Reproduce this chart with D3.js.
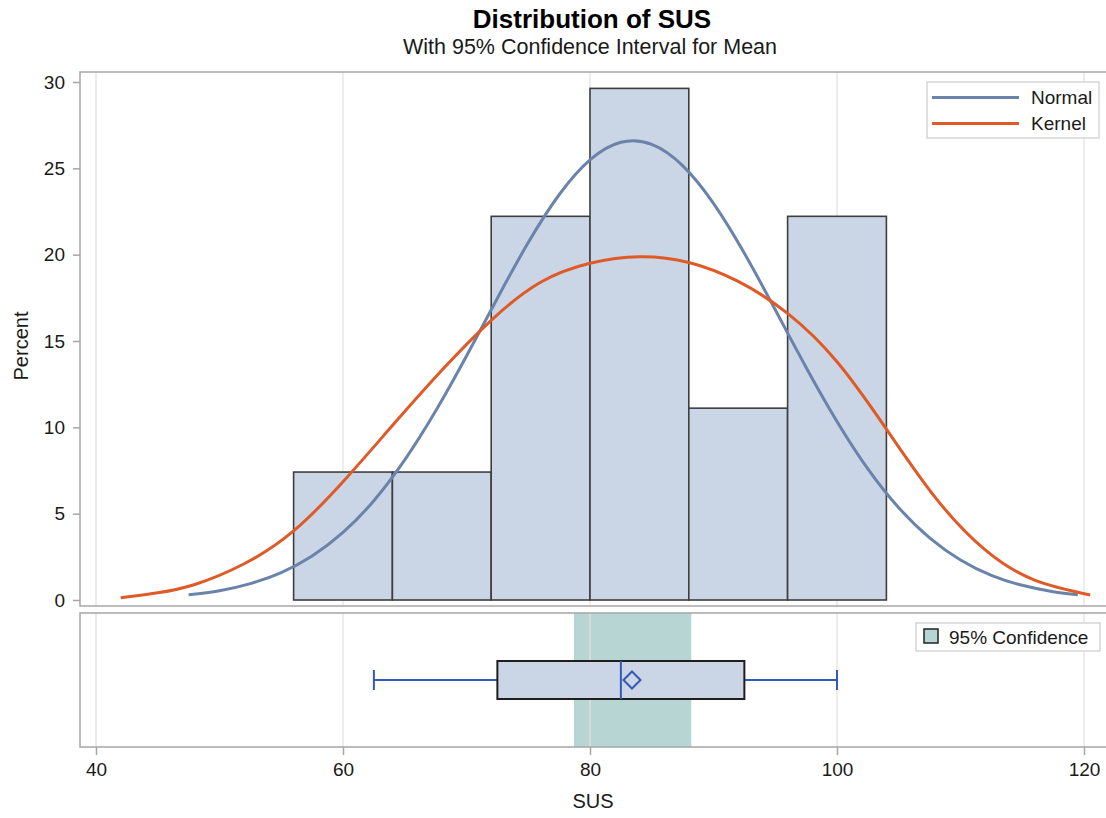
<!DOCTYPE html>
<html>
<head>
<meta charset="utf-8">
<script src="https://cdn.jsdelivr.net/npm/d3@7"></script>
<style>
  html, body { margin: 0; padding: 0; background: #ffffff; }
  svg { display: block; font-family: "Liberation Sans", Arial, sans-serif; }
</style>
</head>
<body>
<div id="chart"></div>
<script>
// Distribution of SUS — histogram with normal / kernel fits and a box plot
// with the 95% confidence interval for the mean underneath.

// ----- Data -----
const binLo = [56, 64, 72, 80, 88, 96];
const binHi = [64, 72, 80, 88, 96, 104];
const binPercent = [7.41, 7.41, 22.22, 29.63, 11.11, 22.22];

const normalX = [47.5, 50, 52.5, 55, 57.5, 60, 62.5, 65, 67.5, 70, 72.5, 75, 77.5, 80,
                 82.5, 85, 87.5, 90, 92.5, 95, 97.5, 100, 102.5, 105, 107.5, 110, 112.5,
                 115, 117.5, 119.5];
const normalY = [0.30, 0.54, 0.95, 1.59, 2.55, 3.91, 5.75, 8.11, 10.94, 14.13, 17.48, 20.70,
                 23.47, 25.49, 26.51, 26.39, 25.16, 22.97, 20.08, 16.81, 13.47, 10.34, 7.59,
                 5.34, 3.60, 2.32, 1.43, 0.85, 0.48, 0.30];

const kernelX = [42, 45, 48, 52, 56, 60, 64, 68, 72, 76, 80, 84, 88, 92, 96, 100, 104,
                 108, 112, 116, 120.5];
const kernelY = [0.13, 0.42, 0.9, 2.1, 4.0, 6.85, 10.1, 13.3, 16.2, 18.4, 19.5, 19.88,
                 19.55, 18.45, 16.6, 13.8, 9.9, 5.9, 2.9, 1.15, 0.29];

// box plot: min, Q1, median, Q3, max
const boxValues = [62.5, 72.5, 82.5, 92.5, 100];
const meanSUS = 83.4;
const ciMean = [78.7, 88.2];

const xTicks = [40, 60, 80, 100, 120];
const yTicks = [0, 5, 10, 15, 20, 25, 30];
const fitNames = ["Normal", "Kernel"];

// ----- Configuration -----
const W = 1106, H = 818;
const FONT = "Liberation Sans, Arial, sans-serif";
const TEXT_COLOR = "#1a1a1a";
const BAR_FILL = "#cad5e5";
const BAR_STROKE = "#3e3e3e";
const NORMAL_COLOR = "#6a83aa";
const KERNEL_COLOR = "#e05a27";
const CI_FILL = "#b7d5d3";
const WHISKER_COLOR = "#3558b8";
const FRAME_COLOR = "#a6a6a6";
const GRID_COLOR = "#e3e3e3";

const TOP = { left: 80, right: 1112, top: 72, bottom: 606 };
const BOTTOM = { left: 80, right: 1112, top: 613, bottom: 747 };

const svg = d3.select("#chart").append("svg")
  .attr("width", W)
  .attr("height", H);

// ----- Scales -----
const x = d3.scaleLinear().domain([40, 120]).range([96, 1084]);
const y = d3.scaleLinear().domain([0, 30]).range([600, 82]);

// ----- Titles -----
svg.append("text")
  .attr("x", 592).attr("y", 28)
  .attr("text-anchor", "middle")
  .attr("font-size", 26).attr("font-weight", "bold")
  .attr("fill", "#000")
  .text("Distribution of SUS");

svg.append("text")
  .attr("x", 590).attr("y", 54)
  .attr("text-anchor", "middle")
  .attr("font-size", 21.5)
  .attr("fill", TEXT_COLOR)
  .text("With 95% Confidence Interval for Mean");

// ----- Panels: clip + grid -----
function panel(box, id) {
  svg.append("clipPath").attr("id", id)
    .append("rect")
    .attr("x", box.left).attr("y", box.top)
    .attr("width", box.right - box.left).attr("height", box.bottom - box.top);
  return svg.append("g").attr("clip-path", `url(#${id})`);
}

const topG = panel(TOP, "clipTop");
const botG = panel(BOTTOM, "clipBot");

// CI band sits under the grid in the lower panel
botG.append("rect")
  .attr("x", x(ciMean[0]))
  .attr("y", BOTTOM.top)
  .attr("width", x(ciMean[1]) - x(ciMean[0]))
  .attr("height", BOTTOM.bottom - BOTTOM.top)
  .attr("fill", CI_FILL);

[[topG, TOP], [botG, BOTTOM]].forEach(([g, box]) => {
  g.selectAll("line.grid").data(xTicks).enter().append("line")
    .attr("class", "grid")
    .attr("x1", d => x(d)).attr("x2", d => x(d))
    .attr("y1", box.top).attr("y2", box.bottom)
    .attr("stroke", GRID_COLOR)
    .attr("stroke-opacity", 0.85)
    .attr("stroke-width", 1.5);
});

// ----- Histogram -----
topG.selectAll("rect.bar").data(binPercent).enter().append("rect")
  .attr("class", "bar")
  .attr("x", (d, i) => x(binLo[i]))
  .attr("y", d => y(d))
  .attr("width", (d, i) => x(binHi[i]) - x(binLo[i]))
  .attr("height", d => y(0) - y(d))
  .attr("fill", BAR_FILL)
  .attr("stroke", BAR_STROKE)
  .attr("stroke-width", 1.6);

// ----- Fitted curves -----
const line = d3.line()
  .x(d => x(d[0]))
  .y(d => y(d[1]))
  .curve(d3.curveNatural);

topG.append("path")
  .datum(normalX.map((v, i) => [v, normalY[i]]))
  .attr("d", line)
  .attr("fill", "none")
  .attr("stroke", NORMAL_COLOR)
  .attr("stroke-width", 3);

topG.append("path")
  .datum(kernelX.map((v, i) => [v, kernelY[i]]))
  .attr("d", line)
  .attr("fill", "none")
  .attr("stroke", KERNEL_COLOR)
  .attr("stroke-width", 3);

// ----- Box plot -----
const boxMid = 680;
const boxHalf = 19;
const capHalf = 10;

botG.append("line")
  .attr("x1", x(boxValues[0])).attr("x2", x(boxValues[1]))
  .attr("y1", boxMid).attr("y2", boxMid)
  .attr("stroke", WHISKER_COLOR).attr("stroke-width", 2);
botG.append("line")
  .attr("x1", x(boxValues[3])).attr("x2", x(boxValues[4]))
  .attr("y1", boxMid).attr("y2", boxMid)
  .attr("stroke", WHISKER_COLOR).attr("stroke-width", 2);
botG.selectAll("line.cap").data([boxValues[0], boxValues[4]]).enter().append("line")
  .attr("class", "cap")
  .attr("x1", d => x(d)).attr("x2", d => x(d))
  .attr("y1", boxMid - capHalf).attr("y2", boxMid + capHalf)
  .attr("stroke", WHISKER_COLOR).attr("stroke-width", 2);

botG.append("rect")
  .attr("x", x(boxValues[1]))
  .attr("y", boxMid - boxHalf)
  .attr("width", x(boxValues[3]) - x(boxValues[1]))
  .attr("height", boxHalf * 2)
  .attr("fill", BAR_FILL)
  .attr("stroke", "#1e1e1e")
  .attr("stroke-width", 2);

botG.append("line")
  .attr("x1", x(boxValues[2])).attr("x2", x(boxValues[2]))
  .attr("y1", boxMid - boxHalf).attr("y2", boxMid + boxHalf)
  .attr("stroke", WHISKER_COLOR).attr("stroke-width", 2);

botG.append("path")
  .attr("transform", `translate(${x(meanSUS)},${boxMid})`)
  .attr("d", "M0,-8.5L8.5,0L0,8.5L-8.5,0Z")
  .attr("fill", "none")
  .attr("stroke", WHISKER_COLOR)
  .attr("stroke-width", 2);

// ----- Panel frames -----
[TOP, BOTTOM].forEach(box => {
  svg.append("rect")
    .attr("x", box.left).attr("y", box.top)
    .attr("width", box.right - box.left).attr("height", box.bottom - box.top)
    .attr("fill", "none")
    .attr("stroke", FRAME_COLOR)
    .attr("stroke-width", 1.5);
});

// ----- Axes -----
const yAxisG = svg.append("g")
  .attr("transform", `translate(${TOP.left},0)`)
  .call(d3.axisLeft(y).tickValues(yTicks).tickSize(7).tickSizeOuter(0).tickPadding(8));

const xAxisG = svg.append("g")
  .attr("transform", `translate(0,${BOTTOM.bottom})`)
  .call(d3.axisBottom(x).tickValues(xTicks).tickSize(8).tickSizeOuter(0).tickPadding(8));

[yAxisG, xAxisG].forEach(g => {
  g.select(".domain").remove();
  g.selectAll("line").attr("stroke", FRAME_COLOR).attr("stroke-width", 1.5);
  g.selectAll("text")
    .attr("fill", TEXT_COLOR)
    .attr("font-family", FONT)
    .attr("font-size", 19);
});

svg.append("text")
  .attr("transform", `translate(28,${(TOP.top + TOP.bottom) / 2 + 7}) rotate(-90)`)
  .attr("text-anchor", "middle")
  .attr("font-size", 20)
  .attr("fill", TEXT_COLOR)
  .text("Percent");

svg.append("text")
  .attr("x", x(80) + 3).attr("y", 808)
  .attr("text-anchor", "middle")
  .attr("font-size", 20)
  .attr("fill", TEXT_COLOR)
  .text("SUS");

// ----- Legends -----
const leg = svg.append("g");
leg.append("rect")
  .attr("x", 927).attr("y", 82)
  .attr("width", 172).attr("height", 56)
  .attr("fill", "#fff")
  .attr("stroke", "#d6d6d6").attr("stroke-width", 1.5);

fitNames.forEach((name, i) => {
  const ly = 97.5 + i * 26;
  leg.append("line")
    .attr("x1", 932).attr("x2", 1019)
    .attr("y1", ly).attr("y2", ly)
    .attr("stroke", i === 0 ? NORMAL_COLOR : KERNEL_COLOR)
    .attr("stroke-width", 3);
  leg.append("text")
    .attr("x", 1031).attr("y", ly + 6.5)
    .attr("font-size", 19)
    .attr("fill", TEXT_COLOR)
    .text(name);
});

const ciLeg = svg.append("g");
ciLeg.append("rect")
  .attr("x", 916).attr("y", 623)
  .attr("width", 184).attr("height", 28)
  .attr("fill", "#fff")
  .attr("stroke", "#d6d6d6").attr("stroke-width", 1.5);
ciLeg.append("rect")
  .attr("x", 924).attr("y", 629)
  .attr("width", 14).attr("height", 14)
  .attr("fill", CI_FILL)
  .attr("stroke", "#222").attr("stroke-width", 1.5);
ciLeg.append("text")
  .attr("x", 949).attr("y", 643.5)
  .attr("font-size", 19)
  .attr("fill", TEXT_COLOR)
  .text("95% Confidence");
</script>
</body>
</html>
